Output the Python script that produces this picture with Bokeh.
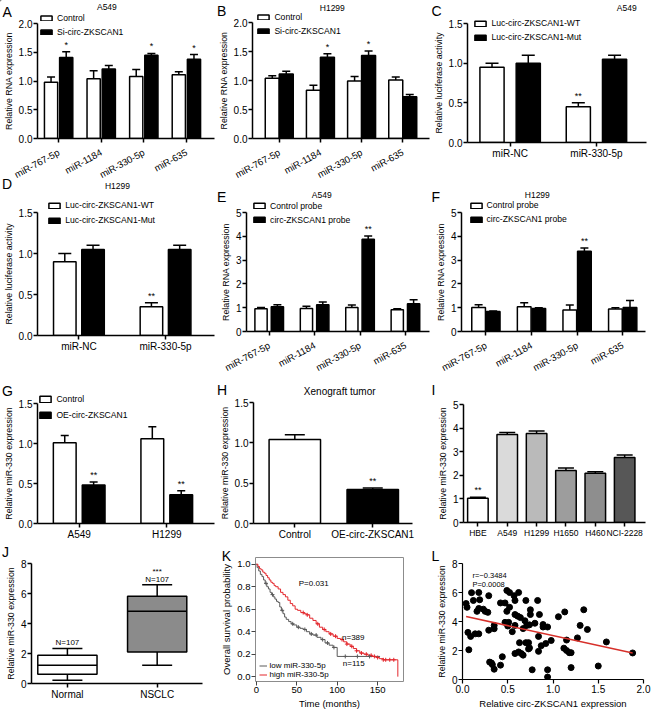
import numpy as np
from bokeh.plotting import figure
from bokeh.layouts import row, column
from bokeh.models import (Range1d, FixedTicker, Whisker, TeeHead, Label, Legend,
                          LegendItem, ColumnDataSource, NumeralTickFormatter, GridBox)
from bokeh.core.properties import value
from bokeh.embed import file_html
from bokeh.resources import INLINE

FONT = "Liberation Sans"

# ---------------- data ----------------
mirs = ["miR-767-5p", "miR-1184", "miR-330-5p", "miR-635"]
a_ctrl = [0.98, 1.04, 1.08, 1.11]
a_ctrl_err = [0.09, 0.14, 0.12, 0.05]
a_si = [1.41, 1.21, 1.45, 1.38]
a_si_err = [0.10, 0.06, 0.03, 0.08]
a_sig = ["*", "", "*", "*"]

b_ctrl = [1.04, 0.83, 0.99, 1.01]
b_ctrl_err = [0.04, 0.09, 0.08, 0.05]
b_si = [1.11, 1.40, 1.43, 0.72]
b_si_err = [0.05, 0.06, 0.08, 0.04]
b_sig = ["", "*", "*", ""]

luc_groups = ["miR-NC", "miR-330-5p"]
c_wt = [0.95, 0.45]
c_wt_err = [0.05, 0.05]
c_mut = [1.00, 1.05]
c_mut_err = [0.10, 0.05]
c_sig = ["", "**"]

d_wt = [0.90, 0.35]
d_wt_err = [0.10, 0.05]
d_mut = [1.05, 1.05]
d_mut_err = [0.05, 0.05]
d_sig = ["", "**"]

e_ctrl = [0.96, 0.97, 1.01, 0.91]
e_ctrl_err = [0.05, 0.09, 0.10, 0.05]
e_probe = [1.04, 1.12, 3.88, 1.17]
e_probe_err = [0.08, 0.12, 0.13, 0.16]
e_sig = ["", "", "**", ""]

f_ctrl = [1.01, 1.04, 0.90, 0.95]
f_ctrl_err = [0.11, 0.17, 0.21, 0.05]
f_probe = [0.84, 0.97, 3.37, 1.01]
f_probe_err = [0.02, 0.03, 0.14, 0.29]
f_sig = ["", "", "**", ""]

g_lines = ["A549", "H1299"]
g_ctrl = [1.01, 1.06]
g_ctrl_err = [0.09, 0.15]
g_oe = [0.48, 0.36]
g_oe_err = [0.04, 0.05]
g_sig = ["**", "**"]

h_groups = ["Control", "OE-circ-ZKSCAN1"]
h_vals = [1.04, 0.42]
h_err = [0.06, 0.02]
h_sig = ["", "**"]

i_lines = ["HBE", "A549", "H1299", "H1650", "H460", "NCI-2228"]
i_vals = [1.03, 3.73, 3.77, 2.20, 2.09, 2.75]
i_err = [0.04, 0.08, 0.11, 0.11, 0.06, 0.11]
i_sig = ["**", "", "", "", "", ""]
i_colors = ["#ffffff", "#dadada", "#bababa", "#9d9d9d", "#8e8e8e", "#575757"]

j_groups = ["Normal", "NSCLC"]
j_low = [0.22, 1.22]
j_q1 = [0.61, 2.10]
j_med = [1.22, 4.81]
j_q3 = [1.88, 5.81]
j_high = [2.34, 6.58]
j_n = ["N=107", "N=107"]
j_sig = ["", "***"]

km_high_t = [0, 2, 4, 6, 8, 10, 12, 14, 16, 18, 20, 22, 24, 27, 30, 33, 36, 39, 42, 45,
             48, 51, 55, 59, 62, 66, 70, 74, 78, 82, 86, 90, 95, 100, 104, 108, 112, 116,
             120, 124, 128, 133, 138, 143, 148, 152, 157, 175, 175]
km_high_s = [1.0, 0.98, 0.96, 0.95, 0.93, 0.92, 0.90, 0.88, 0.86, 0.84, 0.83, 0.81, 0.80,
             0.78, 0.75, 0.73, 0.71, 0.68, 0.65, 0.63, 0.60, 0.59, 0.57, 0.56, 0.55, 0.52,
             0.50, 0.47, 0.44, 0.42, 0.40, 0.38, 0.36, 0.34, 0.33, 0.31, 0.29, 0.27, 0.25,
             0.23, 0.21, 0.20, 0.19, 0.18, 0.17, 0.16, 0.15, 0.15, 0.0]
km_low_t = [0, 1, 3, 5, 7, 9, 11, 13, 15, 17, 19, 21, 23, 25, 27, 29, 31, 33, 35, 37, 40,
            43, 46, 50, 54, 58, 62, 66, 70, 75, 80, 85, 90, 95, 100, 153]
km_low_s = [1.0, 0.97, 0.94, 0.91, 0.89, 0.86, 0.83, 0.80, 0.78, 0.75, 0.73, 0.71, 0.69,
            0.67, 0.66, 0.62, 0.59, 0.56, 0.53, 0.51, 0.49, 0.47, 0.46, 0.44, 0.43, 0.42,
            0.40, 0.38, 0.37, 0.35, 0.33, 0.30, 0.28, 0.26, 0.18, 0.18]
cens_high = [58, 63, 76, 84, 92, 98, 106, 112, 118, 124, 130, 136, 142, 146, 150, 157,
             160, 165, 170]
cens_low = [12, 20, 32, 45, 52, 60, 68, 74, 82, 88, 96, 110, 125, 140]

l_x = [0.04, 0.05, 0.10, 0.12, 0.06, 0.09, 0.07, 0.16, 0.18, 0.19, 0.18, 0.14, 0.18, 0.23,
       0.25, 0.28, 0.29, 0.29, 0.30, 0.32, 0.33, 0.35, 0.35, 0.35, 0.42, 0.44, 0.42, 0.47,
       0.49, 0.52, 0.49, 0.52, 0.47, 0.50, 0.51, 0.55, 0.57, 0.58, 0.62, 0.58, 0.61, 0.58,
       0.58, 0.62, 0.63, 0.64, 0.67, 0.65, 0.67, 0.70, 0.69, 0.71, 0.74, 0.70, 0.73, 0.73,
       0.74, 0.75, 0.75, 0.77, 0.80, 0.83, 0.85, 0.84, 0.84, 0.87, 0.89, 0.89, 0.92, 0.94,
       0.94, 0.94, 0.98, 1.06, 1.13, 1.12, 1.15, 1.15, 1.18, 1.20, 1.20, 1.27, 1.30, 1.34,
       1.38, 1.50, 1.59, 1.88]
l_y = [5.24, 4.98, 5.99, 5.45, 3.25, 2.97, 2.05, 4.70, 4.90, 5.50, 6.00, 3.15, 3.15, 4.85,
       4.70, 4.63, 5.78, 3.40, 1.20, 1.14, 1.03, 0.71, 3.73, 3.50, 0.99, 1.57, 5.28, 5.28,
       6.14, 6.00, 4.70, 4.98, 3.94, 3.69, 3.94, 3.30, 5.78, 5.45, 6.00, 4.48, 4.37, 3.73,
       1.79, 1.90, 2.54, 4.27, 3.51, 1.79, 1.68, 5.45, 4.05, 3.73, 3.77, 2.54, 2.54, 2.11,
       2.18, 4.81, 4.48, 0.67, 3.88, 5.45, 4.48, 2.97, 1.94, 2.33, 3.79, 3.62, 2.48, 3.62,
       0.67, 0.17, 2.69, 4.33, 4.66, 2.16, 2.72, 2.00, 1.85, 1.85, 0.82, 2.87, 3.73, 4.81,
       3.45, 0.93, 2.59, 1.83]
l_fit_intercept = 4.40
l_fit_slope = -1.37
l_r_text = "r=\u22120.3484"
l_p_text = "P=0.0008"

# ---------------- helpers ----------------
def base_fig(geom, xr, yr):
    w, h, l, r, t, b = geom
    p = figure(width=w, height=h, x_range=Range1d(*xr), y_range=Range1d(*yr),
               output_backend="svg", toolbar_location=None, frame_align=False,
               min_border_left=l, min_border_right=r, min_border_top=t, min_border_bottom=b)
    p.outline_line_color = None
    p.xgrid.visible = False
    p.ygrid.visible = False
    p.background_fill_color = "white"
    p.border_fill_color = "white"
    for ax in p.axis:
        ax.axis_line_width = 1.5
        ax.axis_line_color = "black"
        ax.major_tick_line_width = 1.5
        ax.major_tick_line_color = "black"
        ax.major_tick_out = 4
        ax.major_tick_in = 0
        ax.minor_tick_out = 0
        ax.minor_tick_in = 0
        ax.major_label_text_font = FONT
        ax.major_label_text_font_size = "10px"
        ax.major_label_text_color = "black"
        ax.major_label_standoff = 1
        ax.axis_label_text_font = FONT
        ax.axis_label_text_font_size = "8.8px"
        ax.axis_label_text_font_style = "normal"
        ax.axis_label_text_color = "black"
        ax.axis_label_standoff = 2
    return p


def errbar(p, xs, v, e, cap):
    src = ColumnDataSource(dict(base=list(xs), lower=list(v),
                                upper=[a + c for a, c in zip(v, e)]))
    p.add_layout(Whisker(source=src, base="base", lower="lower", upper="upper",
                         dimension="height", line_color="black", line_width=1.5,
                         lower_head=None,
                         upper_head=TeeHead(size=cap, line_width=1.5, line_color="black")))


def stars(p, xs, v, e, sig, off=-2, size="9px"):
    p.text(x=list(xs), y=[a + c for a, c in zip(v, e)], text=list(sig),
           text_align="center", text_baseline="bottom", y_offset=off,
           text_font=value(FONT), text_font_size=value(size), text_color="black")


def bars2(p, names, v1, e1, v2, e2, off, width, cap, sig2=None, sig1=None):
    xs = list(range(1, len(names) + 1))
    x1 = [x - off for x in xs]
    x2 = [x + off for x in xs]
    p.vbar(x=x1, top=v1, bottom=0, width=width, fill_color="white",
           line_color="black", line_width=1.5)
    p.vbar(x=x2, top=v2, bottom=0, width=width, fill_color="black",
           line_color="black", line_width=1.5)
    errbar(p, x1, v1, e1, cap)
    errbar(p, x2, v2, e2, cap)
    if sig1 is not None:
        stars(p, x1, v1, e1, sig1)
    if sig2 is not None:
        stars(p, x2, v2, e2, sig2)
    p.xaxis.ticker = FixedTicker(ticks=xs)
    p.xaxis.major_label_overrides = {x: n for x, n in zip(xs, names)}


def rotated(p):
    p.xaxis.major_label_orientation = 0.5
    p.xaxis.major_label_standoff = 9
    p.xaxis.major_label_text_font_size = "9.5px"


def yticks(p, ticks, fmt=None):
    p.yaxis.ticker = FixedTicker(ticks=ticks)
    if fmt:
        p.yaxis.formatter = NumeralTickFormatter(format=fmt)


# ---------------- geometry (w, h, left, right, top, bottom) ----------------
gA = (215, 187, 31, 1, 23, 47)
gB = (215, 187, 30, 1, 22, 47)
gC = (221, 187, 35, 5, 23, 45)
gD = (215, 193, 31, 1, 25, 45)
gE = (215, 193, 31, 1, 25, 47)
gF = (221, 193, 31, 6, 25, 47)
gG = (215, 162, 31, 1, 23, 17)
gH = (215, 162, 38, 18, 22, 18)
gI = (221, 162, 33, 6, 24, 20)
gJ = (215, 169, 31, 13, 21, 28)
gK = (215, 169, 40, 27, 15, 29)
gL = (221, 169, 32, 8, 21, 30)

# ---------------- A ----------------
pA = base_fig(gA, (0.504, 4.66), (0, 2.0))
bars2(pA, mirs, a_ctrl, a_ctrl_err, a_si, a_si_err, 0.178, 0.31, 8, sig2=a_sig)
yticks(pA, [0, 0.5, 1.0, 1.5, 2.0], "0.0")
pA.yaxis.axis_label = "Relative RNA expression"
rotated(pA)

# ---------------- B ----------------
pB = base_fig(gB, (0.35, 4.65), (0, 2.0))
bars2(pB, mirs, b_ctrl, b_ctrl_err, b_si, b_si_err, 0.17, 0.34, 8, sig2=b_sig)
yticks(pB, [0, 0.5, 1.0, 1.5, 2.0], "0.0")
pB.yaxis.axis_label = "Relative RNA expression"
rotated(pB)

# ---------------- C ----------------
pC = base_fig(gC, (0.506, 2.58), (0, 1.5))
bars2(pC, luc_groups, c_wt, c_wt_err, c_mut, c_mut_err, 0.21, 0.28, 13, sig1=c_sig)
yticks(pC, [0, 0.5, 1.0, 1.5], "0.0")
pC.yaxis.axis_label = "Relative luciferase activity"

# ---------------- D ----------------
pD = base_fig(gD, (0.522, 2.565), (0, 1.5))
bars2(pD, luc_groups, d_wt, d_wt_err, d_mut, d_mut_err, 0.163, 0.26, 13, sig1=d_sig)
yticks(pD, [0, 0.5, 1.0, 1.5], "0.0")
pD.yaxis.axis_label = "Relative luciferase activity"

# ---------------- E ----------------
pE = base_fig(gE, (0.5, 4.53), (0, 5))
bars2(pE, mirs, e_ctrl, e_ctrl_err, e_probe, e_probe_err, 0.18, 0.27, 8, sig2=e_sig)
yticks(pE, [0, 1, 2, 3, 4, 5])
pE.yaxis.axis_label = "Relative RNA expression"
rotated(pE)

# ---------------- F ----------------
pF = base_fig(gF, (0.465, 4.5), (0, 5))
bars2(pF, mirs, f_ctrl, f_ctrl_err, f_probe, f_probe_err, 0.16, 0.30, 8, sig2=f_sig)
yticks(pF, [0, 1, 2, 3, 4, 5])
pF.yaxis.axis_label = "Relative RNA expression"
rotated(pF)

# ---------------- G ----------------
pG = base_fig(gG, (0.524, 2.545), (0, 1.5))
bars2(pG, g_lines, g_ctrl, g_ctrl_err, g_oe, g_oe_err, 0.165, 0.26, 8, sig2=g_sig)
yticks(pG, [0, 0.5, 1.0, 1.5], "0.0")
pG.yaxis.axis_label = "Relative miR-330 expression"

# ---------------- H ----------------
pH = base_fig(gH, (0.47, 2.51), (0, 1.5))
hx = list(range(1, len(h_groups) + 1))
pH.vbar(x=hx, top=h_vals, bottom=0, width=0.66, fill_color=["white", "black"],
        line_color="black", line_width=1.5)
errbar(pH, hx, h_vals, h_err, 20)
stars(pH, hx, h_vals, h_err, h_sig)
pH.xaxis.ticker = FixedTicker(ticks=hx)
pH.xaxis.major_label_overrides = {x: n for x, n in zip(hx, h_groups)}
yticks(pH, [0, 0.5, 1.0, 1.5], "0.0")
pH.yaxis.axis_label = "Relative miR-330 expression"

# ---------------- I ----------------
pI = base_fig(gI, (0.51, 6.71), (0, 5))
ix = list(range(1, len(i_lines) + 1))
pI.vbar(x=ix, top=i_vals, bottom=0, width=0.7, fill_color=i_colors,
        line_color="black", line_width=1.5)
errbar(pI, ix, i_vals, i_err, 16)
stars(pI, ix, i_vals, i_err, i_sig)
pI.xaxis.ticker = FixedTicker(ticks=ix)
pI.xaxis.major_label_overrides = {x: n for x, n in zip(ix, i_lines)}
pI.xaxis.major_label_text_font_size = "8.5px"
yticks(pI, [0, 1, 2, 3, 4, 5])
pI.yaxis.axis_label = "Relative miR-330 expression"

# ---------------- J ----------------
pJ = base_fig(gJ, (0.6, 2.505), (0, 8))
jx = list(range(1, len(j_groups) + 1))
pJ.vbar(x=jx, bottom=j_q1, top=j_q3, width=0.66, fill_color=["white", "#8b8b8b"],
        line_color="black", line_width=1.5)
pJ.segment(x0=[x - 0.33 for x in jx], x1=[x + 0.33 for x in jx], y0=j_med, y1=j_med,
           line_color="black", line_width=1.5)
pJ.add_layout(Whisker(source=ColumnDataSource(dict(b=jx, lo=j_q3, up=j_high)), base="b",
                      lower="lo", upper="up", dimension="height", line_color="black",
                      line_width=1.5, lower_head=None,
                      upper_head=TeeHead(size=30, line_width=1.5, line_color="black")))
pJ.add_layout(Whisker(source=ColumnDataSource(dict(b=jx, lo=j_low, up=j_q1)), base="b",
                      lower="lo", upper="up", dimension="height", line_color="black",
                      line_width=1.5, upper_head=None,
                      lower_head=TeeHead(size=30, line_width=1.5, line_color="black")))
pJ.text(x=jx, y=j_high, text=j_n, text_align="center", text_baseline="bottom", y_offset=-1,
        text_font=value(FONT), text_font_size=value("8px"), text_color="black")
pJ.text(x=jx, y=j_high, text=j_sig, text_align="center", text_baseline="bottom", y_offset=-9,
        text_font=value(FONT), text_font_size=value("8px"), text_color="black")
pJ.xaxis.ticker = FixedTicker(ticks=jx)
pJ.xaxis.major_label_overrides = {x: n for x, n in zip(jx, j_groups)}
yticks(pJ, [0, 2, 4, 6, 8])
pJ.yaxis.axis_label = "Relative miR-330 expression"

# ---------------- K ----------------
pK = base_fig(gK, (-1, 182), (-0.043, 1.06))
for ax in pK.axis:
    ax.axis_line_color = None
    ax.major_tick_line_width = 1
    ax.major_tick_line_color = "#444444"
    ax.major_label_text_font_size = "9.5px"
    ax.axis_label_text_font_size = "9.5px"
pK.outline_line_color = "#8c8c8c"
pK.outline_line_width = 1
pK.xaxis.ticker = FixedTicker(ticks=[0, 50, 100, 150])
yticks(pK, [0, 0.2, 0.4, 0.6, 0.8, 1.0], "0.0")
pK.xaxis.axis_label = "Time (months)"
pK.yaxis.axis_label = "Overall survival probability"
RED = "#e3262c"
GREY = "#5a5a5a"
pK.step(x=km_low_t, y=km_low_s, mode="after", line_color=GREY, line_width=1)
pK.step(x=km_high_t, y=km_high_s, mode="after", line_color=RED, line_width=1)


def surv_at(ts, ss, ct):
    idx = np.searchsorted(np.asarray(ts), np.asarray(ct), side="right") - 1
    return list(np.asarray(ss)[idx])


pK.scatter(x=cens_high, y=surv_at(km_high_t[:-1], km_high_s[:-1], cens_high), marker="cross",
           size=4, line_color=RED, line_width=1)
pK.scatter(x=cens_low, y=surv_at(km_low_t, km_low_s, cens_low), marker="cross",
           size=4, line_color=GREY, line_width=1)
pK.text(x=[71], y=[0.83], text=["P=0.031"], text_align="center", text_baseline="middle",
        text_font=value(FONT), text_font_size=value("8px"), text_color="black")
pK.text(x=[106, 107], y=[0.35, 0.12], text=["n=389", "n=115"], text_align="left",
        text_baseline="middle", text_font=value(FONT), text_font_size=value("8px"),
        text_color="black")

# ---------------- L ----------------
pL = base_fig(gL, (0, 2.0), (0, 8))
for ax in pL.axis:
    ax.axis_line_width = 1.2
    ax.major_tick_line_width = 1.2
pL.xaxis.ticker = FixedTicker(ticks=[0, 0.5, 1.0, 1.5, 2.0])
pL.xaxis.formatter = NumeralTickFormatter(format="0.0")
yticks(pL, [0, 2, 4, 6, 8])
pL.scatter(x=l_x, y=l_y, size=6, fill_color="black", line_color="black")
fit_x = [min(l_x), max(l_x)]
fit_y = [l_fit_intercept + l_fit_slope * v for v in fit_x]
pL.line(x=fit_x, y=fit_y, line_color="#d7302a", line_width=1.5)
pL.text(x=[0.11, 0.11], y=[7.18, 6.53], text=[l_r_text, l_p_text], text_align="left",
        text_baseline="middle", text_font=value(FONT), text_font_size=value("7.5px"),
        text_color="black")
pL.xaxis.axis_label = "Relative circ-ZKSCAN1 expression"
pL.yaxis.axis_label = "Relative miR-330 expression"
pL.xaxis.axis_label_text_font_size = "9.5px"

main = column(row(pA, pB, pC), row(pD, pE, pF), row(pG, pH, pI), row(pJ, pK, pL))

# ---------------- overlay for panel letters, titles and legends ----------------
OW, OH = 651, 711
ov = figure(width=OW, height=OH, x_range=Range1d(0, OW), y_range=Range1d(OH, 0),
            x_axis_type=None, y_axis_type=None, output_backend="svg",
            toolbar_location=None, frame_align=False,
            min_border_left=0, min_border_right=0, min_border_top=0, min_border_bottom=0)
ov.outline_line_color = None
ov.xgrid.visible = False
ov.ygrid.visible = False
ov.background_fill_alpha = 0
ov.border_fill_alpha = 0

panel_letters = ["A", "B", "C", "D", "E", "F", "G", "H", "I", "J", "K", "L"]
letter_pos = [(2, 3.9), (216.4, 2.9), (431, 2.9), (1.6, 175.5), (216.4, 188.7), (431, 188.7),
              (1.6, 382.4), (216.4, 381.4), (431, 381), (1.6, 543.8), (221.2, 547.2),
              (431, 547.2)]
for t, (x, y) in zip(panel_letters, letter_pos):
    ov.add_layout(Label(x=x, y=y, text=t, text_font=FONT, text_font_size="14px",
                        text_align="left", text_baseline="top", text_color="black"))

panel_titles = ["A549", "H1299", "A549", "H1299", "A549", "H1299", "Xenograft tumor"]
title_pos = [(106.4, 6.8), (331.8, 7.8), (626.3, 7.2), (117, 185.8), (321.3, 194),
             (536.8, 194), (339.2, 391.2)]
title_size = ["8.5px"] * 6 + ["10px"]
for t, (x, y), s in zip(panel_titles, title_pos, title_size):
    ov.add_layout(Label(x=x, y=y, text=t, text_font=FONT, text_font_size=s,
                        text_align="center", text_baseline="middle", text_color="black"))

# legend-key renderers (their single point lies outside the overlay's visible area)
white_bar = ov.vbar(x=[-50], top=[-50], bottom=[-60], width=1, fill_color="white",
                    line_color="black", line_width=1.5)
black_bar = ov.vbar(x=[-50], top=[-50], bottom=[-60], width=1, fill_color="black",
                    line_color="black", line_width=1.5)
grey_line = ov.line(x=[-60, -50], y=[-50, -50], line_color=GREY, line_width=1)
red_line = ov.line(x=[-60, -50], y=[-50, -50], line_color=RED, line_width=1)


def ov_legend(renderers, labels, px, py_center, pitch, gw=14, gh=7, size="8.6px",
              standoff=4, row_h=10):
    n = len(labels)
    spacing = int(round(pitch - row_h))
    total = n * row_h + (n - 1) * spacing
    top = py_center - row_h / 2
    vy = OH - (top + total)
    ov.add_layout(Legend(
        items=[LegendItem(label=lab, renderers=[rr]) for lab, rr in zip(labels, renderers)],
        location=(px, vy), orientation="vertical", padding=0, margin=0, spacing=spacing,
        glyph_width=gw, glyph_height=gh, label_height=row_h, label_standoff=standoff,
        label_text_font=FONT, label_text_font_size=size, label_text_color="black",
        border_line_alpha=0, background_fill_alpha=0))


wb = [white_bar, black_bar]
ov_legend(wb, ["Control", "Si-circ-ZKSCAN1"], 39, 17.6, 13.7, gh=6)
ov_legend(wb, ["Control", "Si-circ-ZKSCAN1"], 256.4, 17.4, 13.7, gh=6)
ov_legend(wb, ["Luc-circ-ZKSCAN1-WT", "Luc-circ-ZKSCAN1-Mut"], 473.4, 23.2, 13.8)
ov_legend(wb, ["Luc-circ-ZKSCAN1-WT", "Luc-circ-ZKSCAN1-Mut"], 47.2, 205.4, 14.7)
ov_legend(wb, ["Control probe", "circ-ZKSCAN1 probe"], 252.1, 205.7, 14.4)
ov_legend(wb, ["Control probe", "circ-ZKSCAN1 probe"], 468.5, 205.1, 14.3)
ov_legend(wb, ["Control", "OE-circ-ZKSCAN1"], 38.4, 399.3, 15.8, gh=8)
ov_legend([grey_line, red_line], ["low miR-330-5p", "high miR-330-5p"], 258.6, 665, 8.8,
          gw=8, gh=7, size="8px", standoff=3, row_h=9)

layout = GridBox(children=[(main, 0, 0), (ov, 0, 0)])
open("out.html", "w").write(file_html(layout, INLINE))
